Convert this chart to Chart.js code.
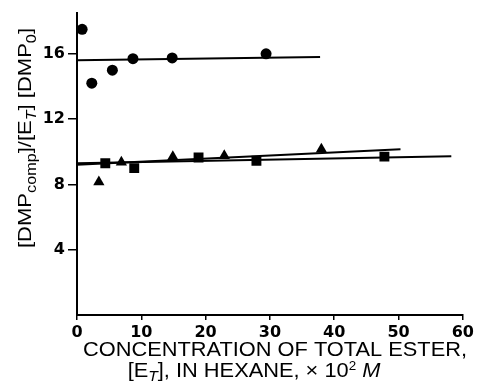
<!DOCTYPE html>
<html>
<head>
<meta charset="utf-8">
<script src="https://cdn.jsdelivr.net/npm/chart.js@4"></script>
<style>
html,body{margin:0;padding:0;background:#fff;}
canvas{display:block;}
</style>
</head>
<body>
<canvas id="c" width="477" height="385"></canvas>
<script>
// ---- data ----
const xTicks = [0, 10, 20, 30, 40, 50, 60];
const yTicks = [4, 8, 12, 16];

const circleX = [0.8, 2.3, 5.5, 8.7, 14.8, 29.4];
const circleY = [17.5, 14.2, 15.0, 15.7, 15.75, 16.0];

const triangleX = [3.4, 6.9, 14.9, 22.9, 38.0];
const triangleY = [8.15, 9.35, 9.7, 9.75, 10.15];

const squareX = [4.4, 8.9, 18.9, 27.9, 47.8];
const squareY = [9.3, 9.0, 9.65, 9.45, 9.7];

const circleFitX = [0, 37.8];
const circleFitY = [15.6, 15.8];
const triangleFitX = [0, 50.3];
const triangleFitY = [9.2, 10.15];
const squareFitX = [0, 58.2];
const squareFitY = [9.3, 9.72];

const xMax = 60;
const yMax = 18.5;

const pts = (xs, ys) => xs.map((x, i) => ({x: x, y: ys[i]}));

const FAMILY = "'Liberation Sans', Arial, sans-serif";
const TICKFONT = "'DejaVu Sans', sans-serif";

function drawRich(ctx, segs, sx) {
  let total = 0;
  const ws = segs.map(s => {
    ctx.font = (s.italic ? 'italic ' : '') + s.size + 'px ' + FAMILY;
    const w = ctx.measureText(s.t).width;
    total += w;
    return w;
  });
  ctx.save();
  ctx.scale(sx, 1);
  let x = -total / 2;
  segs.forEach((s, i) => {
    ctx.font = (s.italic ? 'italic ' : '') + s.size + 'px ' + FAMILY;
    ctx.fillText(s.t, x, s.dy || 0);
    x += ws[i];
  });
  ctx.restore();
  return total;
}

const titlePlugin = {
  id: 'titles',
  afterDraw(chart) {
    const ctx = chart.ctx;
    ctx.save();
    ctx.fillStyle = '#000';
    ctx.textBaseline = 'alphabetic';
    ctx.textAlign = 'left';
    // x-axis title, line 1
    const line1 = [{t: 'CONCENTRATION OF TOTAL ESTER,', size: 19.5}];
    ctx.font = '19.5px ' + FAMILY;
    const w1 = ctx.measureText(line1[0].t).width;
    const sx = 384 / w1;
    ctx.save();
    ctx.translate(275, 356);
    drawRich(ctx, line1, sx);
    ctx.restore();
    // line 2
    const line2 = [
      {t: '[E', size: 19.5},
      {t: 'T', size: 14, dy: 4, italic: true},
      {t: '], IN HEXANE, \u00d7 10', size: 19.5},
      {t: '2', size: 12, dy: -7},
      {t: ' ', size: 19.5},
      {t: 'M', size: 19.5, italic: true}
    ];
    ctx.save();
    ctx.translate(254, 377);
    drawRich(ctx, line2, sx);
    ctx.restore();
    // y-axis title (rotated)
    const ylab = [
      {t: '[DMP', size: 19},
      {t: 'comp', size: 14, dy: 5},
      {t: ']/[E', size: 19},
      {t: 'T', size: 14, dy: 5, italic: true},
      {t: '] [DMP', size: 19},
      {t: '0', size: 14, dy: 5},
      {t: ']', size: 19}
    ];
    let tw = 0;
    ylab.forEach(s => { ctx.font = (s.italic ? 'italic ' : '') + s.size + 'px ' + FAMILY; tw += ctx.measureText(s.t).width; });
    ctx.save();
    ctx.translate(31, 138);
    ctx.rotate(-Math.PI / 2);
    drawRich(ctx, ylab, 220 / tw);
    ctx.restore();
    ctx.restore();
  }
};

const lineDs = (xs, ys) => ({
  type: 'line',
  data: pts(xs, ys),
  borderColor: '#000',
  borderWidth: 2,
  pointRadius: 0,
  fill: false,
  tension: 0
});

new Chart(document.getElementById('c'), {
  type: 'scatter',
  data: {
    datasets: [
      lineDs(circleFitX, circleFitY),
      lineDs(triangleFitX, triangleFitY),
      lineDs(squareFitX, squareFitY),
      {data: pts(circleX, circleY), pointStyle: 'circle', pointRadius: 5.5, backgroundColor: '#000', borderColor: '#000', borderWidth: 0},
      {data: pts(triangleX, triangleY), pointStyle: 'triangle', pointRadius: 6.5, backgroundColor: '#000', borderColor: '#000', borderWidth: 0},
      {data: pts(squareX, squareY), pointStyle: 'rect', pointRadius: 7, backgroundColor: '#000', borderColor: '#000', borderWidth: 0}
    ]
  },
  options: {
    responsive: false,
    animation: false,
    layout: {padding: {left: 0, right: 13, top: 13, bottom: 0}},
    plugins: {legend: {display: false}, tooltip: {enabled: false}},
    scales: {
      x: {
        type: 'linear',
        min: 0, max: xMax,
        afterBuildTicks: s => { s.ticks = xTicks.map(v => ({value: v})); },
        afterFit: s => { s.height = 70; },
        border: {display: true, color: '#000', width: 2},
        grid: {drawOnChartArea: false, color: '#000', lineWidth: 1.5, tickLength: 5},
        ticks: {color: '#000', padding: 3, maxRotation: 0, font: {family: TICKFONT, size: 16, weight: 'bold'}}
      },
      y: {
        type: 'linear',
        min: 0, max: yMax,
        afterBuildTicks: s => { s.ticks = yTicks.map(v => ({value: v})); },
        afterFit: s => { s.width = 77; },
        border: {display: true, color: '#000', width: 2},
        grid: {drawOnChartArea: false, color: '#000', lineWidth: 1.5, tickLength: 9},
        ticks: {color: '#000', padding: 3, font: {family: TICKFONT, size: 16, weight: 'bold'}}
      }
    }
  },
  plugins: [titlePlugin]
});
</script>
</body>
</html>
